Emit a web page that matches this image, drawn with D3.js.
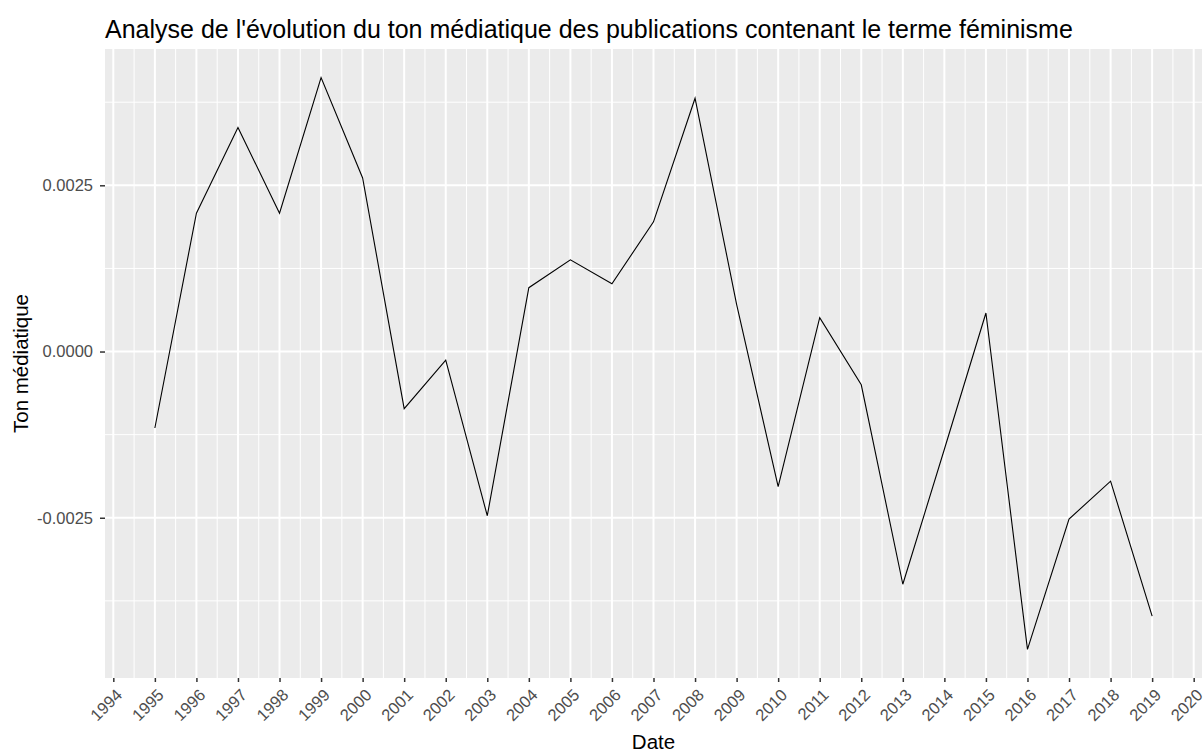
<!DOCTYPE html>
<html>
<head>
<meta charset="utf-8">
<script src="https://cdn.jsdelivr.net/npm/d3@7"></script>
<style>
  body { margin: 0; background: #fff; }
  text { font-family: "Liberation Sans", Arial, sans-serif; }
</style>
</head>
<body>
<script>
// yearly values
const years = [1995, 1996, 1997, 1998, 1999, 2000, 2001, 2002, 2003, 2004, 2005, 2006, 2007,
  2008, 2009, 2010, 2011, 2012, 2013, 2014, 2015, 2016, 2017, 2018, 2019];
const tone = [-0.00115, 0.00208, 0.00337, 0.00208, 0.00412, 0.00261, -0.00086, -0.00013, -0.00247,
  0.00096, 0.00138, 0.00102, 0.00195, 0.00381, 0.00071, -0.00203, 0.00051, -0.00050, -0.00350,
  -0.00147, 0.00058, -0.00448, -0.00252, -0.00195, -0.00398];
const xTicks = d3.range(1994, 2021);
const yTicks = [-0.0025, 0, 0.0025];
const yMinor = [-0.00375, -0.00125, 0.00125, 0.00375];

const title = "Analyse de l'évolution du ton médiatique des publications contenant le terme féminisme";

const dims = { w: 1203, h: 752, pl: 105, pr: 1, pt: 49, pb: 74 };

const svg = d3.select("body").append("svg")
  .attr("width", dims.w)
  .attr("height", dims.h);

// ggplot style 5% expansion
const xr = d3.extent(years), yr = d3.extent(tone);
const xpad = (xr[1] - xr[0]) * 0.05, ypad = (yr[1] - yr[0]) * 0.05;

const x = d3.scaleLinear()
  .domain([xr[0] - xpad, xr[1] + xpad])
  .range([dims.pl, dims.w - dims.pr]);
const y = d3.scaleLinear()
  .domain([yr[0] - ypad, yr[1] + ypad])
  .range([dims.h - dims.pb, dims.pt]);

// panel
svg.append("rect")
  .attr("x", dims.pl).attr("y", dims.pt)
  .attr("width", dims.w - dims.pr - dims.pl)
  .attr("height", dims.h - dims.pb - dims.pt)
  .attr("fill", "#ebebeb");

const grid = svg.append("g");
const xMinor = xTicks.slice(0, -1).map(d => d + 0.5);

grid.selectAll(".vminor").data(xMinor).enter().append("line")
  .attr("x1", d => x(d)).attr("x2", d => x(d))
  .attr("y1", dims.pt).attr("y2", dims.h - dims.pb)
  .attr("stroke", "#fff").attr("stroke-width", 1);
grid.selectAll(".hminor").data(yMinor).enter().append("line")
  .attr("y1", d => y(d)).attr("y2", d => y(d))
  .attr("x1", dims.pl).attr("x2", dims.w - dims.pr)
  .attr("stroke", "#fff").attr("stroke-width", 1);
grid.selectAll(".vmajor").data(xTicks).enter().append("line")
  .attr("x1", d => x(d)).attr("x2", d => x(d))
  .attr("y1", dims.pt).attr("y2", dims.h - dims.pb)
  .attr("stroke", "#fff").attr("stroke-width", 2);
grid.selectAll(".hmajor").data(yTicks).enter().append("line")
  .attr("y1", d => y(d)).attr("y2", d => y(d))
  .attr("x1", dims.pl).attr("x2", dims.w - dims.pr)
  .attr("stroke", "#fff").attr("stroke-width", 2);

// line
const line = d3.line()
  .x((d, i) => x(years[i]))
  .y(d => y(d));

svg.append("path")
  .datum(tone)
  .attr("d", line)
  .attr("fill", "none")
  .attr("stroke", "#000")
  .attr("stroke-width", 1.1);

// axes
const xAxis = svg.append("g")
  .attr("transform", `translate(0, ${dims.h - dims.pb})`)
  .call(d3.axisBottom(x).tickValues(xTicks).tickSize(4).tickFormat(d3.format("d")));
xAxis.select(".domain").remove();
xAxis.selectAll(".tick line").attr("stroke", "#333").attr("stroke-width", 1.5);
xAxis.selectAll(".tick text")
  .attr("fill", "#4d4d4d")
  .attr("font-size", 16.5)
  .attr("text-anchor", "end")
  .attr("y", 0).attr("dy", 0)
  .attr("transform", "translate(9.5, 18) rotate(-45)");

const yAxis = svg.append("g")
  .attr("transform", `translate(${dims.pl}, 0)`)
  .call(d3.axisLeft(y).tickValues(yTicks).tickSize(5).tickPadding(7).tickFormat(d3.format(".4f")));
yAxis.select(".domain").remove();
yAxis.selectAll(".tick line").attr("stroke", "#333").attr("stroke-width", 1.5);
yAxis.selectAll(".tick text")
  .attr("fill", "#4d4d4d")
  .attr("font-size", 16.5)
  .text(d => d3.format(".4f")(d).replace("−", "-"));

// titles
svg.append("text")
  .attr("x", dims.pl)
  .attr("y", 38)
  .attr("font-size", 25)
  .attr("fill", "#000")
  .text(title);

svg.append("text")
  .attr("x", (dims.pl + dims.w - dims.pr) / 2)
  .attr("y", 749)
  .attr("text-anchor", "middle")
  .attr("font-size", 20.5)
  .text("Date");

svg.append("text")
  .attr("transform", `translate(28, ${(dims.pt + dims.h - dims.pb) / 2}) rotate(-90)`)
  .attr("text-anchor", "middle")
  .attr("font-size", 20.5)
  .text("Ton médiatique");
</script>
</body>
</html>
